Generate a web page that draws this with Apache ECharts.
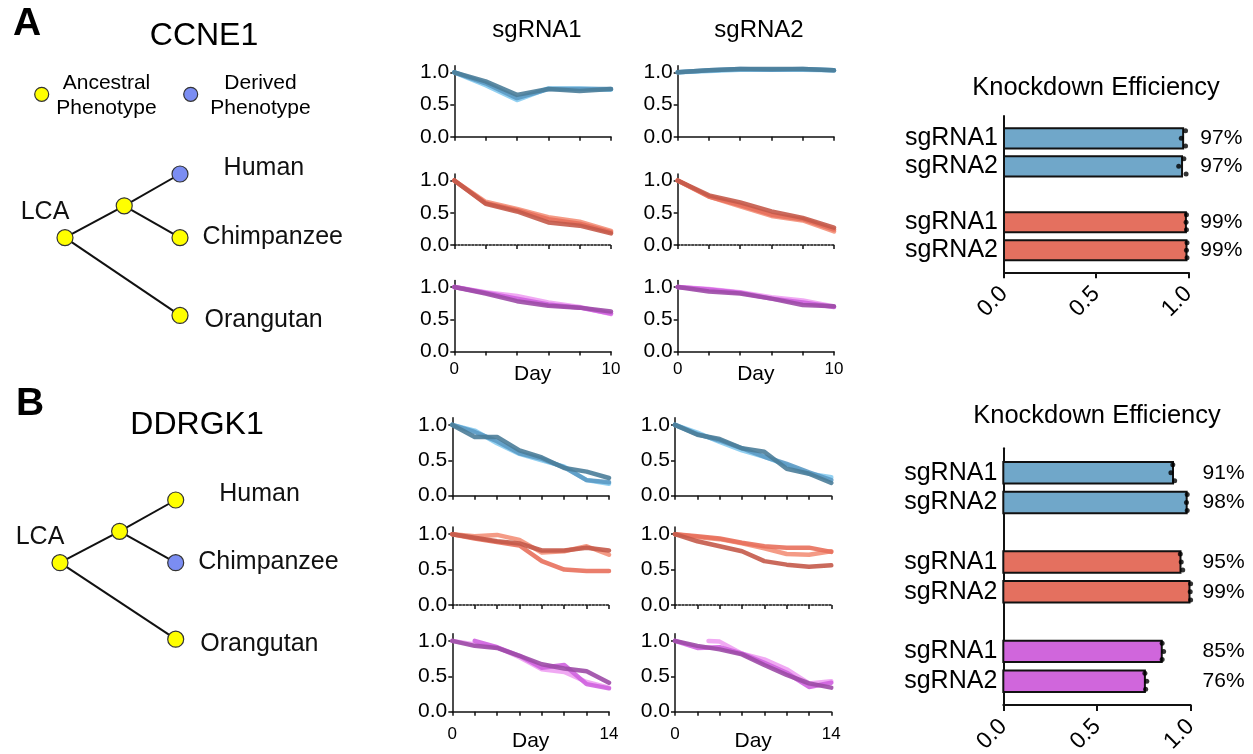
<!DOCTYPE html>
<html><head><meta charset="utf-8">
<script src="https://cdn.jsdelivr.net/npm/echarts@6/dist/echarts.min.js"></script>
<style>html,body{margin:0;padding:0;background:#fff}#c{width:1253px;height:754px}</style>
</head><body><div id="c"></div>
<script>
const FONT = '"Liberation Sans", Arial, Helvetica, sans-serif';

// ---------------- DATA ----------------
// Day axes
const daysA = [0, 2, 4, 6, 8, 10];
const daysB = [0, 2, 4, 6, 8, 10, 12, 14];
const daysBfrom2 = [2, 4, 6, 8, 10, 12, 14];
const daysBfrom3 = [3, 4, 6, 8, 10, 12, 14];
const yTickValues = [0, 0.5, 1.0];

// CCNE1 growth curves (replicates: light, mid, dark)
const ccne1Sg1Blue = [[1.00,0.80,0.57,0.75,0.75,0.73],[1.00,0.83,0.60,0.74,0.74,0.74],[1.00,0.86,0.65,0.74,0.71,0.74]];
const ccne1Sg1Red = [[1.00,0.67,0.56,0.43,0.36,0.22],[1.00,0.65,0.54,0.40,0.33,0.20],[1.00,0.64,0.52,0.35,0.30,0.18]];
const ccne1Sg1Purple = [[1.00,0.92,0.86,0.76,0.69,0.58],[1.00,0.91,0.82,0.73,0.68,0.59],[1.00,0.90,0.78,0.71,0.68,0.62]];
const ccne1Sg2Blue = [[1.00,1.02,1.04,1.04,1.04,1.03],[1.00,1.03,1.05,1.04,1.05,1.03],[1.00,1.03,1.05,1.05,1.05,1.03]];
const ccne1Sg2Red = [[1.00,0.75,0.60,0.45,0.38,0.21],[1.00,0.75,0.62,0.47,0.40,0.24],[1.00,0.77,0.66,0.52,0.42,0.27]];
const ccne1Sg2Purple = [[1.00,0.97,0.92,0.84,0.79,0.70],[1.00,0.96,0.91,0.82,0.76,0.69],[1.00,0.93,0.90,0.82,0.72,0.70]];

// DDRGK1 growth curves
const ddrgk1Sg1Blue = [[1.00,0.92,0.74,0.59,0.50,0.41,0.22,0.17],[1.00,0.90,0.77,0.60,0.52,0.40,0.22,0.19],[1.00,0.83,0.83,0.64,0.54,0.39,0.34,0.25]];
const ddrgk1Sg1Red = [[1.00,0.97,0.99,0.92,0.74,0.76,0.83,0.71],[1.00,0.94,0.89,0.84,0.62,0.50,0.48,0.48],[1.00,0.95,0.90,0.87,0.77,0.77,0.81,0.77]];
const ddrgk1Sg1Purple = [[1.00,0.95,0.91,0.77,0.60,0.56,0.42,0.34],[1.00,0.91,0.79,0.62,0.66,0.39,0.33],[1.00,0.93,0.90,0.79,0.67,0.61,0.57,0.41]];
const ddrgk1Sg2Blue = [[1.00,0.89,0.76,0.64,0.55,0.43,0.31,0.26],[1.00,0.87,0.78,0.67,0.55,0.45,0.33,0.22],[1.00,0.86,0.80,0.67,0.62,0.38,0.31,0.18]];
const ddrgk1Sg2Red = [[1.00,0.96,0.93,0.87,0.80,0.72,0.71,0.76],[1.00,0.97,0.94,0.88,0.83,0.81,0.81,0.75],[1.00,0.90,0.83,0.76,0.62,0.57,0.54,0.56]];
const ddrgk1Sg2Purple = [[1.00,0.99,0.82,0.74,0.60,0.40,0.43],[1.00,0.90,0.91,0.82,0.69,0.55,0.35,0.41],[1.00,0.93,0.88,0.81,0.66,0.52,0.40,0.34]];

// Knockdown efficiency
const kdLabels = ['sgRNA1', 'sgRNA2'];
const ccne1KdMean = [[0.972, 0.966], [0.987, 0.990]];
const ccne1KdReps = [[[0.985,0.962,0.985],[0.976,0.948,0.988]], [[0.990,0.988,0.990],[0.993,0.990,0.993]]];
const ddrgk1KdMean = [[0.906, 0.979], [0.946, 0.994], [0.846, 0.756]];
const ddrgk1KdReps = [[[0.905,0.895,0.915],[0.982,0.978,0.982]], [[0.945,0.950,0.958],[1.000,0.998,1.000]], [[0.848,0.856,0.848],[0.756,0.766,0.760]]];

// Phylogeny
const treeNames = ['LCA', 'node', 'Human', 'Chimpanzee', 'Orangutan'];
const treeDepth = [0, 1.03, 2, 2, 2];
const treeRow = [1.0, 0.5, 0, 1.0, 2.22];
const treeLinks = [[0,1],[1,2],[1,3],[0,4]];
const ccne1Phenotype = ['Ancestral','Ancestral','Derived','Ancestral','Ancestral'];
const ddrgk1Phenotype = ['Ancestral','Ancestral','Ancestral','Derived','Ancestral'];

// ---------------- STYLE ----------------
const bluePal = ['#86cbef', '#5c9ac4', '#4b7d99'];
const redPal = ['#f39079', '#e8705c', '#c45a4a'];
const purplePal = ['#eea0f2', '#cf62df', '#9c4ba6'];
const barFillsA = ['#70a7c9', '#e4705f'];
const barFillsB = ['#70a7c9', '#e4705f', '#d066dc'];
const phenoColor = {Ancestral: '#ffff00', Derived: '#7b8df2'};

const grids = [], xAxes = [], yAxes = [], series = [];

function zip(days, vals) {
  const out = [];
  for (let i = 0; i < vals.length; i++) out.push([days[i], vals[i]]);
  return out;
}

function addLinePanel(cfg) {
  const gi = grids.length, xi = xAxes.length, yi = yAxes.length;
  const h = 1.1 * cfg.unit;
  grids.push({left: cfg.left, top: cfg.zeroY - h, width: cfg.width, height: h, outerBoundsMode: 'none', containLabel: false});
  const axColor = '#111';
  xAxes.push({
    gridIndex: gi, type: 'value', min: 0, max: cfg.xmax, interval: 2,
    axisLine: {show: true, onZero: false, lineStyle: {color: axColor, width: 1.5, type: cfg.dotted ? [2, 1.5] : 'solid'}},
    axisTick: {show: true, length: 4, lineStyle: {color: axColor, width: 1.5}},
    axisLabel: {show: cfg.bottom, customValues: [0, cfg.xmax], fontSize: 17, color: '#000', fontFamily: FONT, margin: cfg.labelMargin},
    splitLine: {show: false},
    name: cfg.bottom ? 'Day' : '', nameLocation: 'middle', nameGap: cfg.nameGap, nameMoveOverlap: false,
    nameTextStyle: {fontSize: 21, color: '#000', fontFamily: FONT}
  });
  yAxes.push({
    gridIndex: gi, type: 'value', min: 0, max: 1.1,
    axisLine: {show: true, lineStyle: {color: axColor, width: 1.5}},
    axisTick: {show: true, length: 4, customValues: yTickValues, lineStyle: {color: axColor, width: 1.5}},
    axisLabel: {customValues: yTickValues, formatter: v => v.toFixed(1), fontSize: 21, color: '#000', fontFamily: FONT, margin: 5},
    splitLine: {show: false}
  });
  cfg.reps.forEach((vals, k) => {
    const days = cfg.daysList[k];
    series.push({
      type: 'line', xAxisIndex: xi, yAxisIndex: yi, data: zip(days, vals),
      symbol: 'none', silent: true, z: 2 + k,
      lineStyle: {width: 4.5, color: cfg.pal[k], opacity: 0.9, join: 'round', cap: 'round'}
    });
  });
}

const colA = [{left: 454.3, width: 156.7}, {left: 677.7, width: 156.3}];
const colB = [{left: 452.3, width: 156.7}, {left: 675, width: 156.3}];
const rowsA = [136.8, 245, 351.5];
const rowsB = [495.7, 605, 711.7];
const panelsA = [[ccne1Sg1Blue, ccne1Sg1Red, ccne1Sg1Purple], [ccne1Sg2Blue, ccne1Sg2Red, ccne1Sg2Purple]];
const panelsB = [[ddrgk1Sg1Blue, ddrgk1Sg1Red, ddrgk1Sg1Purple], [ddrgk1Sg2Blue, ddrgk1Sg2Red, ddrgk1Sg2Purple]];
const pals = [bluePal, redPal, purplePal];

for (let c = 0; c < 2; c++) for (let r = 0; r < 3; r++) {
  addLinePanel({left: colA[c].left, width: colA[c].width, zeroY: rowsA[r], unit: 64.5, xmax: 10,
    bottom: r === 2, dotted: r === 1, labelMargin: 9, nameGap: 12,
    reps: panelsA[c][r], daysList: [daysA, daysA, daysA], pal: pals[r]});
}
for (let c = 0; c < 2; c++) for (let r = 0; r < 3; r++) {
  let dl = [daysB, daysB, daysB];
  if (c === 0 && r === 2) dl = [daysB, daysBfrom2, daysB];
  if (c === 1 && r === 2) dl = [daysBfrom3, daysB, daysB];
  addLinePanel({left: colB[c].left, width: colB[c].width, zeroY: rowsB[r], unit: 70.8, xmax: 14,
    bottom: r === 2, dotted: r === 1, labelMargin: 14, nameGap: 19,
    reps: panelsB[c][r], daysList: dl, pal: pals[r]});
}

function addBarChart(cfg) {
  const gi = grids.length, xi = xAxes.length;
  grids.push({left: cfg.left, top: cfg.top, width: cfg.width, height: cfg.height, outerBoundsMode: 'none', containLabel: false});
  const positions = [], pctByPos = {}, barData = [], dotData = [];
  cfg.means.forEach((grp, g) => grp.forEach((v, i) => {
    const p = g * 3 + i;
    positions.push(p);
    pctByPos[p] = Math.round(v * 100) + '%';
    barData.push([v, p, g]);
    cfg.reps[g][i].forEach((rv, k) => dotData.push([rv, p + (k - 1) * 0.27]));
  }));
  xAxes.push({
    gridIndex: gi, type: 'value', min: 0, max: 1, interval: 0.5,
    axisLine: {show: true, onZero: false, lineStyle: {color: '#111', width: 2}},
    axisTick: {show: true, length: 6, lineStyle: {color: '#111', width: 2}},
    axisLabel: {rotate: 45, formatter: v => v.toFixed(1), fontSize: 23, color: '#000', fontFamily: FONT, margin: 18},
    splitLine: {show: false}
  });
  const yi = yAxes.length;
  yAxes.push({
    gridIndex: gi, type: 'value', min: cfg.minP, max: cfg.maxP, inverse: true, position: 'left',
    axisLine: {show: true, onZero: false, lineStyle: {color: '#111', width: 2}},
    axisTick: {show: false},
    axisLabel: {customValues: positions, formatter: v => kdLabels[Math.round(v) % 3], fontSize: 25, color: '#000', fontFamily: FONT, margin: 6},
    splitLine: {show: false}
  });
  yAxes.push({
    gridIndex: gi, type: 'value', min: cfg.minP, max: cfg.maxP, inverse: true, position: 'right',
    axisLine: {show: false}, axisTick: {show: false},
    axisLabel: {customValues: positions, formatter: v => pctByPos[Math.round(v)], fontSize: 21, color: '#000', fontFamily: FONT, margin: 12},
    splitLine: {show: false}
  });
  const fills = cfg.fills;
  series.push({
    type: 'custom', xAxisIndex: xi, yAxisIndex: yi, data: barData, silent: true, z: 3,
    encode: {x: 0, y: 1},
    renderItem: (params, api) => {
      const v = api.value(0), p = api.value(1), g = api.value(2);
      const a = api.coord([0, p]), b = api.coord([v, p]);
      const h = api.size([0, 1])[1] * 0.72;
      return {type: 'rect', shape: {x: a[0], y: a[1] - h / 2, width: b[0] - a[0], height: h},
        style: {fill: fills[g], stroke: '#111', lineWidth: 2}};
    }
  });
  series.push({
    type: 'scatter', xAxisIndex: xi, yAxisIndex: yi, data: dotData, silent: true, z: 4,
    symbolSize: 5, itemStyle: {color: '#000'}
  });
}

addBarChart({left: 1004, top: 116, width: 184.3, height: 156.3, minP: -0.8, maxP: 4.79,
  means: ccne1KdMean, reps: ccne1KdReps, fills: barFillsA});
addBarChart({left: 1003.3, top: 448.3, width: 187.3, height: 256.7, minP: -0.82, maxP: 7.8,
  means: ddrgk1KdMean, reps: ddrgk1KdReps, fills: barFillsB});

const leafLabels = {
  LCA: {show: true, position: 'top', distance: 4, offset: [-20, 0]},
  node: {show: false},
  Human: {show: true, position: 'right', distance: 35, offset: [0, -6]},
  Chimpanzee: {show: true, position: 'right', distance: 14, offset: [0, -1]},
  Orangutan: {show: true, position: 'right', distance: 16, offset: [0, 5]}
};

function addTree(cfg) {
  const gi = grids.length, xi = xAxes.length, yi = yAxes.length;
  grids.push({left: cfg.left, top: cfg.top, width: cfg.width, height: cfg.height, outerBoundsMode: 'none', containLabel: false});
  xAxes.push({gridIndex: gi, type: 'value', min: 0, max: 2, show: false, splitLine: {show: false}});
  yAxes.push({gridIndex: gi, type: 'value', min: 0, max: 2.22, inverse: true, show: false, splitLine: {show: false}});
  series.push({
    type: 'lines', coordinateSystem: 'cartesian2d', xAxisIndex: xi, yAxisIndex: yi, silent: true, z: 4,
    data: treeLinks.map(([s, t]) => ({coords: [[treeDepth[s], treeRow[s]], [treeDepth[t], treeRow[t]]]})),
    lineStyle: {color: '#111', width: 2, opacity: 1, curveness: 0}
  });
  series.push({
    type: 'scatter', xAxisIndex: xi, yAxisIndex: yi, silent: true, z: 5,
    symbol: 'circle', symbolSize: 16,
    data: treeNames.map((n, i) => ({
      name: n, value: [treeDepth[i], treeRow[i]],
      itemStyle: {color: phenoColor[cfg.pheno[i]], borderColor: '#333', borderWidth: 1.2, opacity: 1},
      label: Object.assign({formatter: '{b}', fontSize: 25, color: '#111', fontFamily: FONT}, leafLabels[n])
    }))
  });
}
addTree({left: 65, top: 174, width: 115, height: 141.4, pheno: ccne1Phenotype});
addTree({left: 60, top: 500, width: 115.7, height: 139.2, pheno: ddrgk1Phenotype});

function txt(text, x, y, size, extra) {
  return {type: 'text', x, y, silent: true, style: Object.assign({text, fontSize: size, fontFamily: FONT, fill: '#000', align: 'center', verticalAlign: 'middle'}, extra || {})};
}
const graphics = [
  txt('A', 27, 24, 39, {fontWeight: 'bold'}),
  txt('CCNE1', 204, 36, 32),
  txt('B', 30, 404, 39, {fontWeight: 'bold'}),
  txt('DDRGK1', 197, 425, 32),
  txt('sgRNA1', 537, 30, 24),
  txt('sgRNA2', 759, 30, 24),
  txt('Knockdown Efficiency', 1096, 88, 25.5),
  txt('Knockdown Efficiency', 1097, 416, 25.5),
  {type: 'circle', silent: true, shape: {cx: 41.7, cy: 94.3, r: 7}, style: {fill: phenoColor.Ancestral, stroke: '#333', lineWidth: 1.2}},
  txt('Ancestral\nPhenotype', 106.5, 95.5, 21, {lineHeight: 25}),
  {type: 'circle', silent: true, shape: {cx: 190.7, cy: 94.3, r: 7}, style: {fill: phenoColor.Derived, stroke: '#333', lineWidth: 1.2}},
  txt('Derived\nPhenotype', 260.5, 95.5, 21, {lineHeight: 25})
];

const chart = echarts.init(document.getElementById('c'));
chart.setOption({
  animation: false,
  backgroundColor: '#fff',
  textStyle: {fontFamily: FONT},
  grid: grids, xAxis: xAxes, yAxis: yAxes, series: series,
  graphic: graphics
});
</script></body></html>
